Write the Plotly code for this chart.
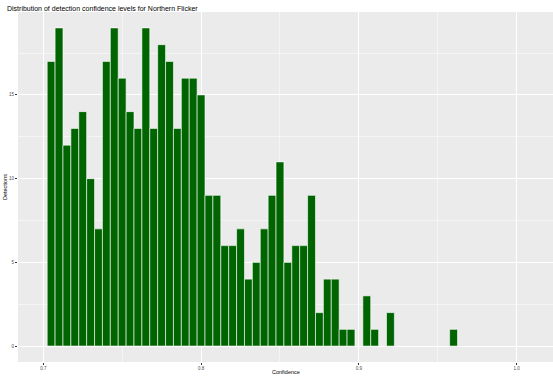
import plotly.graph_objects as go

bin_centers = [round(0.705 + 0.005 * i, 3) for i in range(52)]
counts = [17, 19, 12, 13, 14, 10, 7, 17, 19, 16, 14, 13, 19, 13, 18, 17, 13, 16, 16, 15,
          9, 9, 6, 6, 7, 4, 5, 7, 9, 11, 5, 6, 6, 9, 2, 4, 4, 1, 1, 0, 3, 1, 0, 2,
          0, 0, 0, 0, 0, 0, 0, 1]
x_ticks = [0.7, 0.8, 0.9, 1.0]
x_tick_labels = ["0.7", "0.8", "0.9", "1.0"]
y_ticks = [0, 5, 10, 15]

xs = [c for c, n in zip(bin_centers, counts) if n > 0]
ys = [n for n in counts if n > 0]

fig = go.Figure(go.Bar(
    x=xs, y=ys, width=0.005,
    marker=dict(color="#006400", line=dict(color="white", width=0.6)),
))

font_family = "Liberation Sans, Arial, Helvetica, sans-serif"
fig.update_layout(
    width=553, height=379,
    margin=dict(l=18, r=0, t=12, b=17, autoexpand=False),
    paper_bgcolor="white", plot_bgcolor="#EBEBEB",
    showlegend=False,
    font=dict(family=font_family, color="#4D4D4D"),
    annotations=[
        dict(text="Distribution of detection confidence levels for Northern Flicker",
             xref="paper", yref="paper", x=0, y=1, xshift=-13, yshift=4,
             xanchor="left", yanchor="middle", showarrow=False,
             font=dict(size=7, color="black", family=font_family)),
        dict(text="Confidence", xref="paper", yref="paper", x=0.5, y=0, yshift=-10,
             xanchor="center", yanchor="middle", showarrow=False,
             font=dict(size=5.5, color="black", family=font_family)),
        dict(text="Detections", xref="paper", yref="paper", x=0, y=0.5, xshift=-13,
             xanchor="center", yanchor="middle", showarrow=False, textangle=-90,
             font=dict(size=5.5, color="black", family=font_family)),
    ],
)
fig.update_xaxes(
    range=[0.684, 1.023], tickvals=x_ticks, ticktext=x_tick_labels,
    automargin=False,
    showgrid=True, gridcolor="white", gridwidth=1, zeroline=False,
    ticks="outside", ticklen=2, tickcolor="#333333", tickwidth=0.5,
    tickfont=dict(size=4.5, color="#4D4D4D"),
    minor=dict(dtick=0.05, tick0=0.65, showgrid=True, gridcolor="#F5F5F5", gridwidth=0.5),
)
fig.update_yaxes(
    range=[-0.95, 19.95], tickvals=y_ticks,
    automargin=False,
    showgrid=True, gridcolor="white", gridwidth=1, zeroline=False,
    ticks="outside", ticklen=2, tickcolor="#333333", tickwidth=0.5,
    tickfont=dict(size=4.5, color="#4D4D4D"),
    minor=dict(dtick=2.5, tick0=2.5, showgrid=True, gridcolor="#F5F5F5", gridwidth=0.5),
)

fig.write_html(
    "out.html",
    config={"displayModeBar": False},
    post_script="document.body.style.margin='0';document.body.style.overflow='hidden';",
)
